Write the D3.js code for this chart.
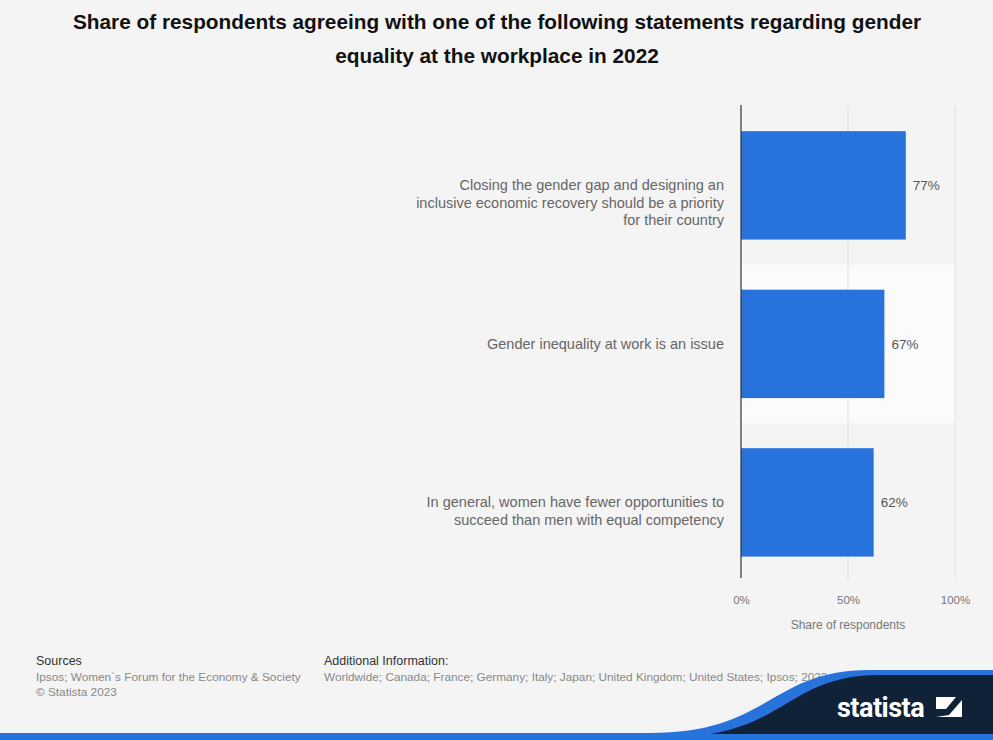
<!DOCTYPE html>
<html>
<head>
<meta charset="utf-8">
<script src="https://cdn.jsdelivr.net/npm/d3@7"></script>
<style>
  body { margin: 0; background: #f4f4f4; }
  svg { display: block; font-family: "Liberation Sans", Arial, sans-serif; }
</style>
</head>
<body>
<div id="chart"></div>
<script>
// data
let categories = [
    ["Closing the gender gap and designing an", "inclusive economic recovery should be a priority", "for their country"],
    ["Gender inequality at work is an issue"],
    ["In general, women have fewer opportunities to", "succeed than men with equal competency"]
];
let values = [77, 67, 62];
let tickValues = [0, 50, 100];

let W = 993, H = 740;
let margin = {top: 105, left: 741, right: 38, bottom: 162};
let width = W - margin.left - margin.right;
let height = H - margin.top - margin.bottom;

let svg = d3.select("#chart").append("svg")
    .attr("width", W)
    .attr("height", H);

svg.append("rect").attr("width", W).attr("height", H).attr("fill", "#f4f4f4");

// title
svg.append("text")
    .attr("x", 497).attr("y", 29)
    .attr("text-anchor", "middle")
    .attr("font-size", 20.8).attr("font-weight", "bold").attr("fill", "#111")
    .selectAll("tspan")
    .data(["Share of respondents agreeing with one of the following statements regarding gender", "equality at the workplace in 2022"])
    .enter().append("tspan")
    .attr("x", 497)
    .attr("dy", (d, i) => i === 0 ? 0 : 34)
    .text(d => d);

let g = svg.append("g")
    .attr("transform", `translate(${margin.left}, ${margin.top})`);

let x = d3.scaleLinear().domain([0, 100]).range([0, width]);
let y = d3.scaleBand().domain(d3.range(values.length)).range([0, height])
    .paddingInner(0.316).paddingOuter(0.15).align(0.55);

// alternating band behind middle row
let step = y.step();
g.selectAll(".band")
    .data(d3.range(values.length).filter(i => i % 2 === 1))
    .enter().append("rect")
    .attr("x", 0)
    .attr("y", i => y(i) + y.bandwidth() / 2 - step / 2)
    .attr("width", x(100))
    .attr("height", step)
    .attr("fill", "#fbfbfb");

// gridlines
g.selectAll(".grid")
    .data(tickValues.slice(1))
    .enter().append("line")
    .attr("x1", d => x(d)).attr("x2", d => x(d))
    .attr("y1", 0).attr("y2", height)
    .attr("stroke", "#e2e2e2").attr("stroke-width", 1);

// bars
g.selectAll(".bar")
    .data(values)
    .enter().append("rect")
    .attr("x", 0)
    .attr("y", (d, i) => y(i))
    .attr("width", d => x(d))
    .attr("height", y.bandwidth())
    .attr("fill", "#2872db");

// value labels
g.selectAll(".val")
    .data(values)
    .enter().append("text")
    .attr("x", d => x(d) + 7)
    .attr("y", (d, i) => y(i) + y.bandwidth() / 2 + 5)
    .attr("font-size", 13.5).attr("fill", "#555")
    .text(d => d + "%");

// category labels (first line sits at the bar centre)
let labels = g.selectAll(".cat")
    .data(categories)
    .enter().append("text")
    .attr("text-anchor", "end")
    .attr("font-size", 14.5).attr("fill", "#666")
    .attr("y", (d, i) => y(i) + y.bandwidth() / 2 + 5);

labels.selectAll("tspan")
    .data(d => d)
    .enter().append("tspan")
    .attr("x", -17)
    .attr("dy", (d, i) => i === 0 ? 0 : 17.5)
    .text(d => d);

// axis line
g.append("line")
    .attr("x1", 0).attr("x2", 0)
    .attr("y1", 0).attr("y2", height)
    .attr("stroke", "#333").attr("stroke-width", 1.2);

// x axis
let xAxis = d3.axisBottom(x).tickValues(tickValues).tickFormat(d => d + "%").tickSize(0).tickPadding(18);
let xg = g.append("g")
    .attr("transform", `translate(0, ${height})`)
    .call(xAxis);
xg.select(".domain").remove();
xg.selectAll("text").attr("font-size", 11.5).attr("fill", "#777").attr("font-family", "Liberation Sans, Arial, sans-serif");

g.append("text")
    .attr("x", x(50)).attr("y", height + 51)
    .attr("text-anchor", "middle")
    .attr("font-size", 12).attr("fill", "#777")
    .text("Share of respondents");

// footer
svg.append("text").attr("x", 36).attr("y", 665).attr("font-size", 12.5).attr("fill", "#333").text("Sources");
svg.append("text").attr("x", 36).attr("y", 681).attr("font-size", 11.8).attr("fill", "#888").text("Ipsos; Women´s Forum for the Economy & Society");
svg.append("text").attr("x", 36).attr("y", 696).attr("font-size", 11.8).attr("fill", "#888").text("© Statista 2023");
svg.append("text").attr("x", 324).attr("y", 665).attr("font-size", 12.5).attr("fill", "#333").text("Additional Information:");
svg.append("text").attr("x", 324).attr("y", 681).attr("font-size", 11.8).attr("fill", "#888").text("Worldwide; Canada; France; Germany; Italy; Japan; United Kingdom; United States; Ipsos; 2022");

// statista corner
svg.append("path")
    .attr("d", "M0,733 L650,733 C770,733 770,670 870,670 L993,670 L993,740 L0,740 Z")
    .attr("fill", "#2872db");
svg.append("path")
    .attr("d", "M0,737 L670,737 C785,737 785,675 880,675 L993,675 L993,740 L0,740 Z")
    .attr("fill", "#0f2237");
svg.append("rect").attr("x", 0).attr("y", 734).attr("width", W).attr("height", 6).attr("fill", "#2872db");

svg.append("text")
    .attr("x", 837).attr("y", 717)
    .attr("font-size", 27).attr("font-weight", "bold").attr("fill", "#fff")
    .attr("font-family", "Roboto, Liberation Sans, sans-serif")
    .attr("letter-spacing", -0.5)
    .text("statista");
let lg = svg.append("g").attr("transform", "translate(936, 697)");
lg.append("rect").attr("width", 26).attr("height", 20).attr("fill", "#fff");
lg.append("path").attr("d", "M0,20 L0,12 L10,12 L20,0 L26,0 L26,3 L13,18 Z").attr("fill", "#0f2237");
</script>
</body>
</html>
